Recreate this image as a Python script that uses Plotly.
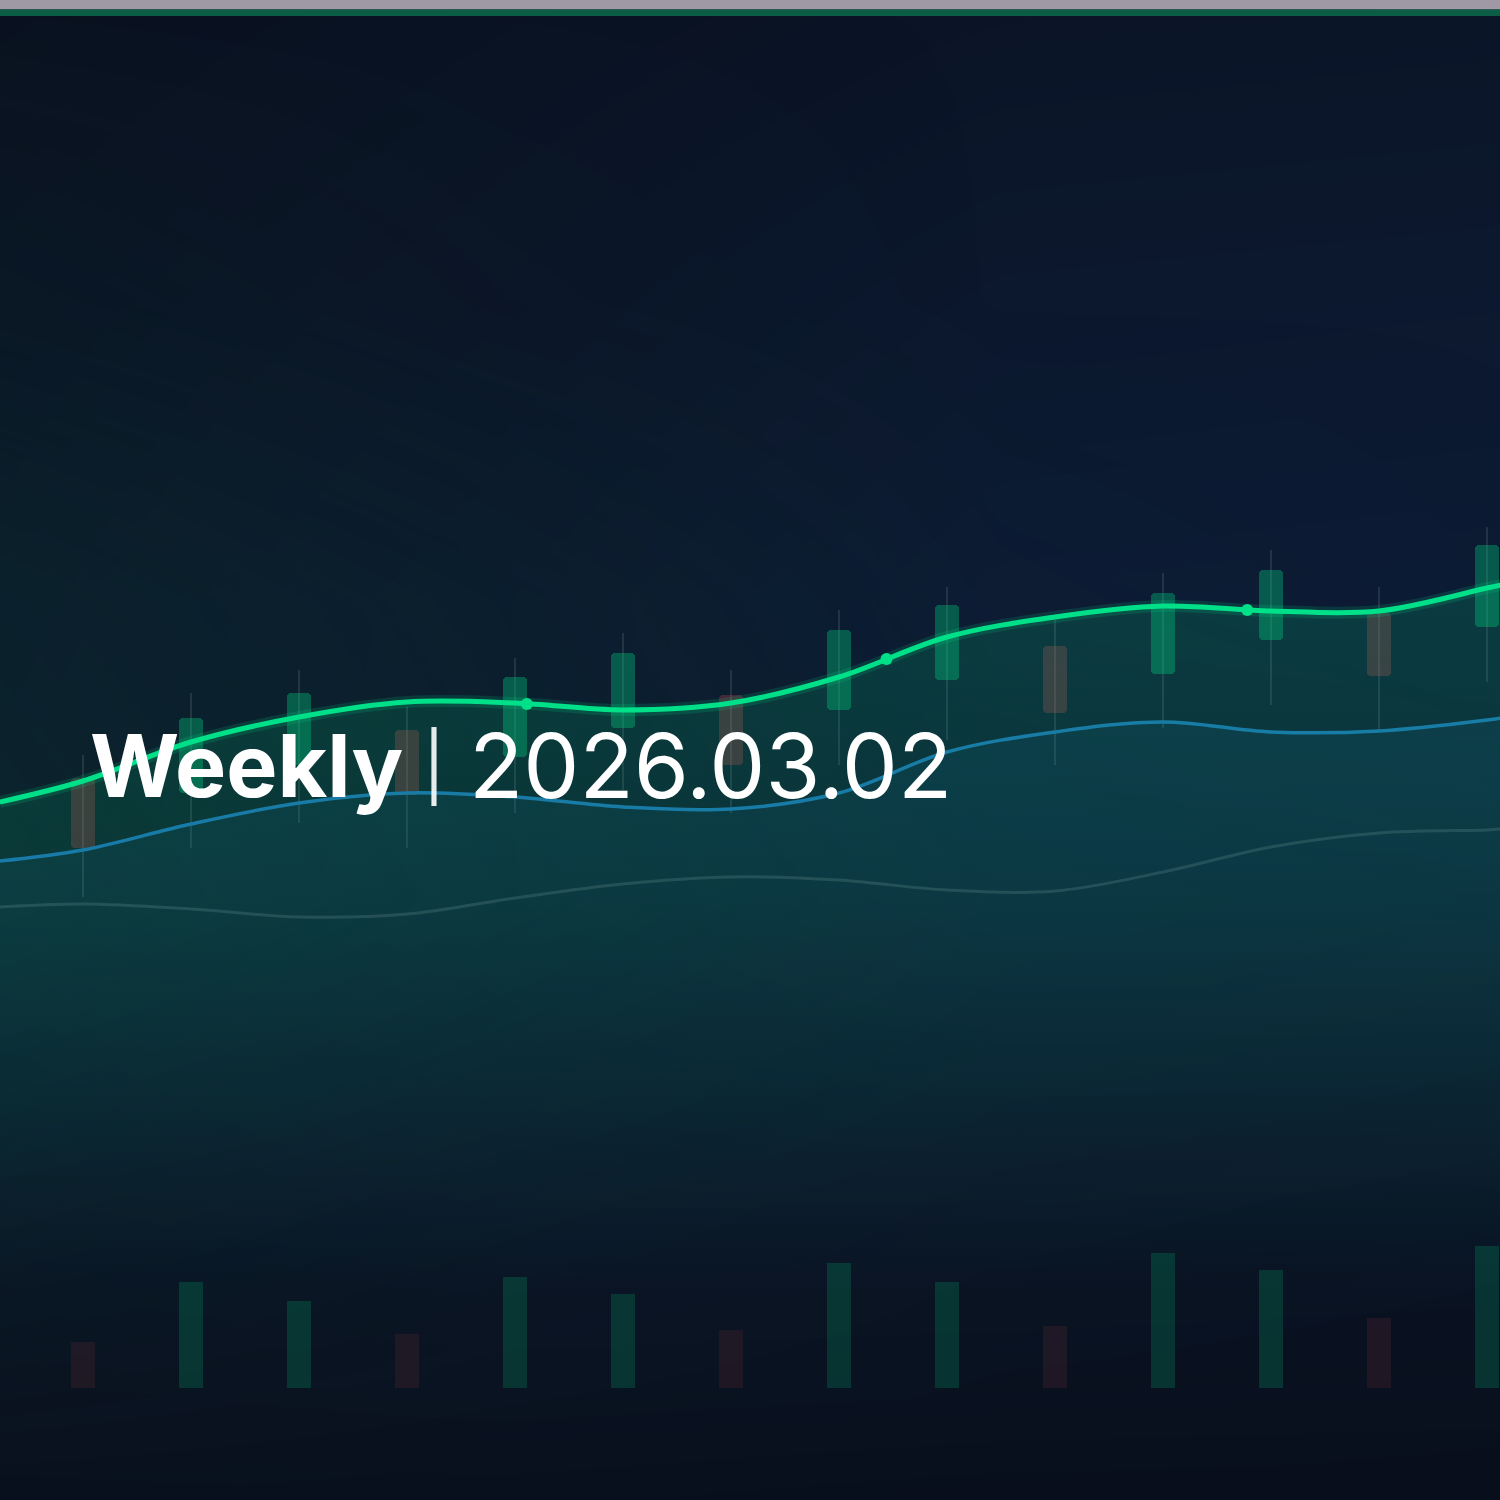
import plotly.graph_objects as go

# ---------------- data ----------------
weeks = list(range(14))
opens  = [72.2, 70.7, 73.5, 77.0, 74.3, 77.2, 80.5, 79.0, 82.0, 85.4, 82.6, 86.0, 88.7, 87.3]
closes = [65.2, 78.2, 80.7, 70.5, 82.3, 84.7, 73.5, 87.0, 89.5, 78.7, 90.7, 93.0, 82.4, 95.5]
highs  = [74.5, 80.7, 83.0, 79.3, 84.2, 86.7, 83.0, 89.0, 91.3, 88.0, 92.7, 95.0, 91.3, 97.3]
lows   = [60.3, 65.2, 67.7, 65.2, 68.7, 71.0, 68.7, 73.5, 76.0, 73.5, 77.2, 79.5, 77.0, 81.8]
volumes = [4.6, 10.6, 8.7, 5.4, 11.1, 9.4, 5.8, 12.5, 10.6, 6.2, 13.5, 11.8, 7.0, 14.2]

ma_x = [-0.77, 0, 1, 2, 3, 4, 5, 6, 7, 8, 9, 10, 11, 12, 13, 13.13]
ma_fast = [69.8, 71.9, 75.8, 78.3, 79.8, 79.7, 79.0, 79.7, 82.3, 86.3, 88.3, 89.4, 88.9, 88.9, 91.2, 91.5]
ma_slow = [63.9, 65.0, 67.6, 69.7, 70.7, 70.3, 69.3, 69.1, 70.7, 74.8, 76.8, 77.8, 76.8, 76.9, 78.0, 78.2]
ma_long = [59.3, 59.6, 59.1, 58.3, 58.6, 60.2, 61.6, 62.3, 62.0, 61.0, 60.9, 62.8, 65.3, 66.7, 67.0, 67.1]

marker_x = [4.11, 7.44, 10.78]
marker_y = [79.6, 84.1, 89.0]

title_bold = "Weekly"
title_sep = "|"
title_date = "2026.03.02"

# ---------------- styling ----------------
GREEN = "#00e088"
BLUE = "#1c6fae"
up = [c >= o for o, c in zip(opens, closes)]
body_colors = ["rgba(0,210,130,0.35)" if u else "rgba(230,80,80,0.25)" for u in up]
vol_colors = ["rgba(0,210,130,0.18)" if u else "rgba(230,80,80,0.10)" for u in up]

fig = go.Figure()

# background gradients (decoration)
bg_x = [-1.5, 3.86, 8.49, 14.0]
bg_y = [155, 120, 90, 60, 30, -5]
navy_z = [
    [0.12, 0.28, 0.40, 0.45],
    [0.25, 0.45, 0.70, 0.75],
    [0.30, 0.60, 0.90, 0.95],
    [0.40, 0.60, 0.80, 0.80],
    [0.30, 0.40, 0.40, 0.35],
    [0.05, 0.05, 0.00, 0.00],
]
teal_z = [
    [0.00, 0.00, 0.00, 0.00],
    [0.15, 0.05, 0.00, 0.00],
    [0.35, 0.20, 0.05, 0.00],
    [0.42, 0.25, 0.12, 0.08],
    [0.18, 0.10, 0.05, 0.03],
    [0.00, 0.00, 0.00, 0.00],
]
fig.add_trace(go.Heatmap(x=bg_x, y=bg_y, z=navy_z, zsmooth="best", zmin=0, zmax=1,
                         colorscale=[[0, "#090e1a"], [1, "#0d1c36"]], showscale=False, hoverinfo="skip"))
fig.add_trace(go.Heatmap(x=bg_x, y=bg_y, z=teal_z, zsmooth="best", zmin=0, zmax=1,
                         colorscale=[[0, "rgba(12,62,60,0)"], [1, "rgba(12,62,60,1)"]], showscale=False, hoverinfo="skip"))

# candle wicks
fig.add_trace(go.Bar(x=weeks, y=[h - l for h, l in zip(highs, lows)], base=lows, width=0.02,
                     marker=dict(color="rgba(255,255,255,0.10)", line_width=0), hoverinfo="skip"))
# candle bodies
fig.add_trace(go.Bar(x=weeks, y=[abs(c - o) for o, c in zip(opens, closes)],
                     base=[min(o, c) for o, c in zip(opens, closes)], width=0.222,
                     marker=dict(color=body_colors, line_width=0, cornerradius=4), hoverinfo="skip"))

# long MA (faint)
fig.add_trace(go.Scatter(x=ma_x, y=ma_long, mode="lines", line=dict(color="rgba(255,255,255,0.13)", width=3, shape="spline"),
                         hoverinfo="skip"))
# slow MA with fill
fig.add_trace(go.Scatter(x=ma_x, y=ma_slow, mode="lines", fill="tozeroy",
                         fillgradient=dict(type="vertical", start=20, stop=80,
                                           colorscale=[[0, "rgba(30,130,200,0)"], [0.6, "rgba(30,130,200,0.06)"], [1, "rgba(30,130,200,0.10)"]]),
                         line=dict(color=BLUE, width=3.5, shape="spline"), hoverinfo="skip"))
# fast MA fill + glow
fig.add_trace(go.Scatter(x=ma_x, y=ma_fast, mode="lines", fill="tozeroy",
                         fillgradient=dict(type="vertical", start=22, stop=92,
                                           colorscale=[[0, "rgba(0,200,120,0)"], [0.55, "rgba(0,200,120,0.12)"], [1, "rgba(0,200,120,0.19)"]]),
                         line=dict(color="rgba(0,224,136,0.15)", width=12, shape="spline"), hoverinfo="skip"))
fig.add_trace(go.Scatter(x=ma_x, y=ma_fast, mode="lines",
                         line=dict(color=GREEN, width=5, shape="spline"), hoverinfo="skip"))
fig.add_trace(go.Scatter(x=marker_x, y=marker_y, mode="markers",
                         marker=dict(color=GREEN, size=12, line_width=0), hoverinfo="skip"))

# volume
fig.add_trace(go.Bar(x=weeks, y=volumes, width=0.222, yaxis="y2",
                     marker=dict(color=vol_colors, line_width=0), hoverinfo="skip"))

fig.update_layout(
    width=1500, height=1500, margin=dict(l=0, r=0, t=0, b=0),
    paper_bgcolor="#0b1524", plot_bgcolor="rgba(0,0,0,0)",
    showlegend=False, barmode="overlay", bargap=0,
    xaxis=dict(range=[-0.7685, 13.1204], visible=False, fixedrange=True),
    yaxis=dict(range=[0, 150], visible=False, fixedrange=True),
    yaxis2=dict(range=[-11.2, 138.8], overlaying="y", visible=False, fixedrange=True),
    shapes=[
        dict(type="rect", xref="paper", yref="paper", x0=0, x1=1, y0=1 - 9.5 / 1500, y1=1,
             fillcolor="#9e99a4", line_width=0, layer="above"),
        dict(type="rect", xref="paper", yref="paper", x0=0, x1=1, y0=1 - 16 / 1500, y1=1 - 9.5 / 1500,
             fillcolor="#0b5e45", line_width=0, layer="above"),
    ],
    annotations=[
        dict(xref="paper", yref="paper", x=88 / 1500, y=1 - 766 / 1500, xanchor="left", yanchor="middle",
             showarrow=False, text=f"<b>{title_bold}</b>",
             font=dict(family="Inter", size=86, color="#ffffff")),
        dict(xref="paper", yref="paper", x=434 / 1500, y=1 - 767 / 1500, xanchor="center", yanchor="middle",
             showarrow=False, text=title_sep,
             font=dict(family="Inter", size=66, color="rgba(255,255,255,0.9)")),
        dict(xref="paper", yref="paper", x=467 / 1500, y=1 - 765 / 1500, xanchor="left", yanchor="middle",
             showarrow=False, text=title_date,
             font=dict(family="Inter", size=89, color="#ffffff")),
    ],
)

fig.write_html("out.html", config={"displayModeBar": False},
               post_script="document.body.style.margin='0';")
